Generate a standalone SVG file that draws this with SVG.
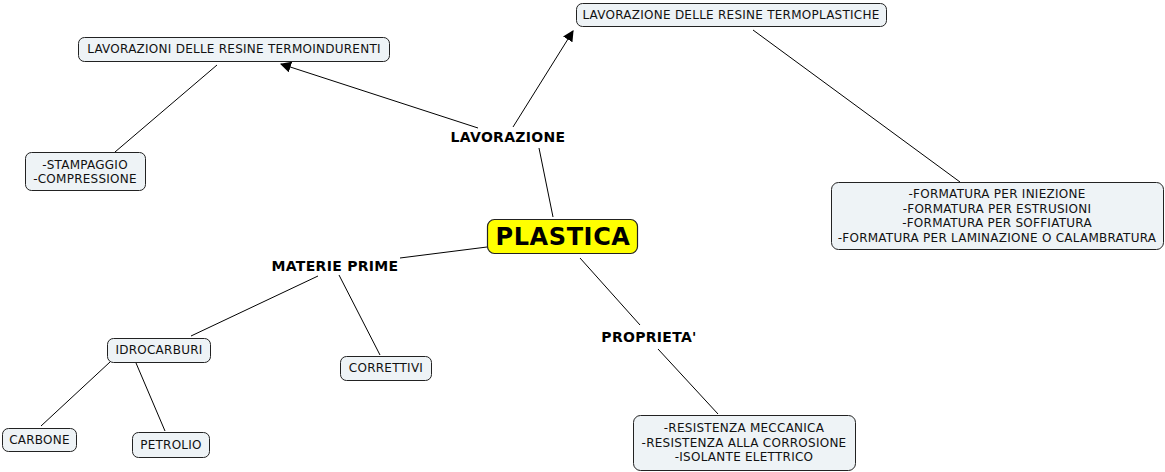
<svg xmlns="http://www.w3.org/2000/svg" width="1165" height="472" viewBox="0 0 1165 472">
<defs>
<marker id="arr" viewBox="0 0 10 10" refX="9" refY="5" markerWidth="11" markerHeight="11" markerUnits="userSpaceOnUse" orient="auto">
<path d="M0,0 L10,5 L0,10 z" fill="#000"/>
</marker>
<style>
.n{fill:#eef3f6;stroke:#222;stroke-width:1}
.t{font-family:"DejaVu Sans","Verdana",sans-serif;font-size:12px;letter-spacing:0.25px;fill:#111;text-anchor:middle;dominant-baseline:central}
.b{font-family:"DejaVu Sans","Verdana",sans-serif;font-size:14px;letter-spacing:0.3px;font-weight:bold;fill:#000;text-anchor:middle;dominant-baseline:central}
.c{stroke:#000;stroke-width:1;fill:none}
</style>
</defs>
<rect width="1165" height="472" fill="#fff"/>
<g id="connectors">
<line class="c" x1="539" y1="148" x2="553" y2="217"/>
<line class="c" x1="513" y1="127" x2="573" y2="31" marker-end="url(#arr)"/>
<line class="c" x1="478" y1="128" x2="281" y2="64" marker-end="url(#arr)"/>
<line class="c" x1="217" y1="65" x2="115" y2="152"/>
<line class="c" x1="753" y1="30" x2="960" y2="182"/>
<line class="c" x1="400" y1="258" x2="487" y2="247"/>
<line class="c" x1="318" y1="276" x2="191" y2="336"/>
<line class="c" x1="339" y1="275" x2="380" y2="355"/>
<line class="c" x1="110" y1="362" x2="41" y2="426"/>
<line class="c" x1="136" y1="363" x2="165" y2="431"/>
<line class="c" x1="580" y1="258" x2="640" y2="325"/>
<line class="c" x1="658" y1="349" x2="718" y2="414"/>
</g>
<g id="plastica">
<rect x="487.5" y="219.5" width="150" height="34" rx="7" fill="#ffff00" stroke="#222" stroke-width="1.2"/>
<text x="563" y="237" font-family="DejaVu Sans, Verdana, sans-serif" font-size="24" font-weight="bold" letter-spacing="0.6" text-anchor="middle" dominant-baseline="central" fill="#000">PLASTICA</text>
</g>
<g id="lavorazione"><text class="b" x="508" y="137">LAVORAZIONE</text></g>
<g id="materie-prime"><text class="b" x="335" y="266">MATERIE PRIME</text></g>
<g id="proprieta"><text class="b" x="649" y="337">PROPRIETA'</text></g>
<g id="termoindurenti">
<rect class="n" x="78.5" y="37.5" width="311" height="24" rx="6"/>
<text class="t" x="234" y="49">LAVORAZIONI DELLE RESINE TERMOINDURENTI</text>
</g>
<g id="stampaggio">
<rect class="n" x="25.5" y="152.5" width="120" height="38" rx="6"/>
<text class="t" x="85" y="165">-STAMPAGGIO</text>
<text class="t" x="85" y="179">-COMPRESSIONE</text>
</g>
<g id="termoplastiche">
<rect class="n" x="576.5" y="3.5" width="310" height="23" rx="6"/>
<text class="t" x="731" y="15">LAVORAZIONE DELLE RESINE TERMOPLASTICHE</text>
</g>
<g id="formatura">
<rect class="n" x="831.5" y="182.5" width="332" height="67" rx="7"/>
<text class="t" x="997" y="194">-FORMATURA PER INIEZIONE</text>
<text class="t" x="997" y="208.5">-FORMATURA PER ESTRUSIONI</text>
<text class="t" x="997" y="223">-FORMATURA PER SOFFIATURA</text>
<text class="t" x="997" y="238">-FORMATURA PER LAMINAZIONE O CALAMBRATURA</text>
</g>
<g id="idrocarburi">
<rect class="n" x="107.5" y="338.5" width="103" height="24" rx="6"/>
<text class="t" x="159" y="350">IDROCARBURI</text>
</g>
<g id="correttivi">
<rect class="n" x="340.5" y="356.5" width="91" height="24" rx="6"/>
<text class="t" x="386" y="368">CORRETTIVI</text>
</g>
<g id="carbone">
<rect class="n" x="2.5" y="428.5" width="74" height="23" rx="6"/>
<text class="t" x="39.5" y="440">CARBONE</text>
</g>
<g id="petrolio">
<rect class="n" x="132.5" y="432.5" width="77" height="25" rx="6"/>
<text class="t" x="171" y="445">PETROLIO</text>
</g>
<g id="proprieta-box">
<rect class="n" x="633.5" y="415.5" width="222" height="55" rx="7"/>
<text class="t" x="744" y="428">-RESISTENZA MECCANICA</text>
<text class="t" x="744" y="442.5">-RESISTENZA ALLA CORROSIONE</text>
<text class="t" x="744" y="457">-ISOLANTE ELETTRICO</text>
</g>
</svg>
